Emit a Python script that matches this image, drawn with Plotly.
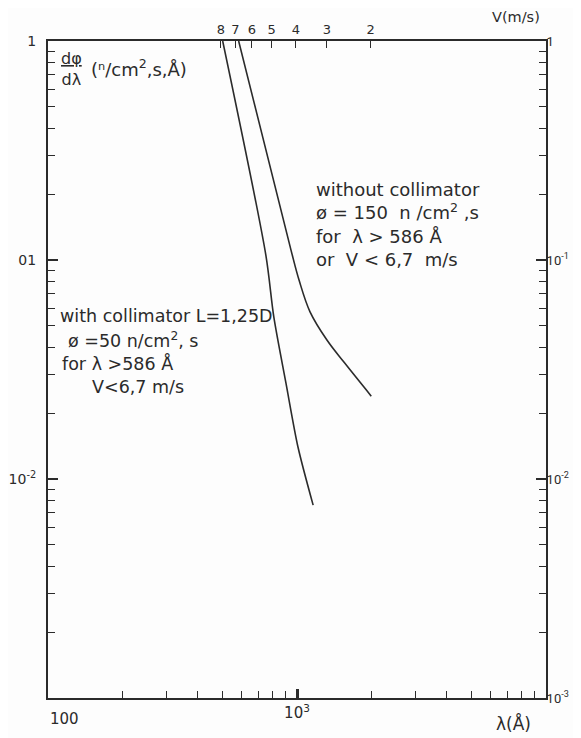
import numpy as np
import plotly.graph_objects as go

# ---- data ----
lam_coll = [503, 750, 807, 903, 1009, 1161]            # wavelength (Å), with collimator
flux_coll = [1.0, 0.105, 0.055, 0.0274, 0.014, 0.0076]

lam_free = [583, 946, 1019, 1128, 1321, 1549, 1987]    # wavelength (Å), without collimator
flux_free = [1.0, 0.111, 0.081, 0.058, 0.043, 0.034, 0.0239]

velocities = [8, 7, 6, 5, 4, 3, 2]                      # top axis V (m/s)
H_OVER_M = 3956.0                                       # λ(Å) = 3956 / v(m/s)

y_left_vals = [1, 0.1, 0.01, 0.001]
y_left_text = ["1", "01", "10<sup>-2</sup>", ""]
y_right_text = ["1", "10<sup>-1</sup>", "10<sup>-2</sup>", "10<sup>-3</sup>"]

x_major_vals = [1000]
x_major_text = ["10<sup>3</sup>"]

FONT = "DejaVu Sans, sans-serif"
INK = "#2b2b2b"

lam_of_v = [H_OVER_M / v for v in velocities]
x_minor = [m * 10 ** d for d in (2, 3) for m in range(2, 10)]
y_minor = [m * 10.0 ** d for d in (-3, -2, -1) for m in range(2, 10)]

fig = go.Figure()
fig.add_trace(go.Scatter(x=lam_coll, y=flux_coll, mode="lines",
                         line=dict(color=INK, width=1.6, shape="spline", smoothing=0.8),
                         showlegend=False, hoverinfo="skip"))
fig.add_trace(go.Scatter(x=lam_free, y=flux_free, mode="lines",
                         line=dict(color=INK, width=1.6, shape="spline", smoothing=1.0),
                         showlegend=False, hoverinfo="skip"))
# invisible trace to anchor the secondary (top/right) axes
fig.add_trace(go.Scatter(x=[1000], y=[0.1], xaxis="x2", yaxis="y2", mode="markers",
                         marker=dict(opacity=0), showlegend=False, hoverinfo="skip"))

# the page body adds an 8 px offset, so the figure is sized to fit the window after it
fig.update_layout(
    width=573, height=730,
    margin=dict(l=40, r=35, t=33, b=40),
    paper_bgcolor="#fdfdfd", plot_bgcolor="#fdfdfd",
    font=dict(family=FONT, color=INK, size=16),
    xaxis=dict(type="log", range=[2, 4], showgrid=False, zeroline=False, automargin=False,
               showline=True, linecolor=INK, linewidth=2,
               tickvals=x_major_vals, ticktext=x_major_text,
               ticks="inside", ticklen=9, tickwidth=2.5, tickcolor=INK,
               tickfont=dict(size=15),
               minor=dict(tickvals=x_minor, ticks="inside", ticklen=7,
                          tickwidth=1.2, tickcolor=INK, showgrid=False)),
    xaxis2=dict(type="log", range=[2, 4], overlaying="x", side="top", automargin=False,
                showgrid=False, zeroline=False, showline=True, linecolor=INK, linewidth=2,
                tickvals=lam_of_v, ticktext=[str(v) for v in velocities],
                ticks="inside", ticklen=7, tickwidth=1.2, tickcolor=INK,
                tickfont=dict(size=13)),
    yaxis=dict(type="log", range=[-3, 0], showgrid=False, zeroline=False, automargin=False,
               showline=True, linecolor=INK, linewidth=2,
               tickvals=y_left_vals, ticktext=y_left_text,
               ticks="inside", ticklen=10, tickwidth=2, tickcolor=INK,
               tickfont=dict(size=14), ticklabelstandoff=7,
               minor=dict(tickvals=y_minor, ticks="inside", ticklen=7,
                          tickwidth=1.2, tickcolor=INK, showgrid=False)),
    yaxis2=dict(type="log", range=[-3, 0], overlaying="y", side="right", automargin=False,
                showgrid=False, zeroline=False, showline=True, linecolor=INK, linewidth=2,
                tickvals=y_left_vals, ticktext=y_right_text,
                ticks="inside", ticklen=10, tickwidth=2, tickcolor=INK,
                tickfont=dict(size=13, family="Roboto, DejaVu Sans, sans-serif"),
                ticklabelstandoff=-4,
                minor=dict(tickvals=y_minor, ticks="inside", ticklen=7,
                           tickwidth=1.2, tickcolor=INK, showgrid=False)),
)

def px_x(px):
    return (px - 48) / 498.0

def px_y(py):
    return (698 - py) / 657.0

ann = []
# x-axis extra labels
ann.append(dict(x=px_x(48), y=px_y(719), text="100", xanchor="left", yanchor="middle",
                font=dict(size=15)))
ann.append(dict(x=px_x(494), y=px_y(723), text="λ(Å)", xanchor="left", yanchor="middle",
                font=dict(size=17)))
ann.append(dict(x=px_x(490), y=px_y(17), text="V(m/s)", xanchor="left", yanchor="middle",
                font=dict(size=14.5)))
# y-axis label (fraction)
ann.append(dict(x=px_x(59), y=px_y(69), text="<u>dφ</u><br>dλ", xanchor="left",
                yanchor="middle", align="center", font=dict(size=16)))
ann.append(dict(x=px_x(89), y=px_y(68), text="(ⁿ/cm<sup>2</sup>,s,Å)", xanchor="left",
                yanchor="middle", font=dict(size=18)))
# right text block
ann.append(dict(x=px_x(314), y=px_y(224), xanchor="left", yanchor="middle", align="left",
                text="without collimator<br>ø = 150  n /cm<sup>2</sup> ,s<br>"
                     "for  λ > 586 Å<br>or  V < 6,7  m/s",
                font=dict(size=18)))
# left text block
left_lines = [("with collimator L=1,25D", 58, 316),
              ("ø =50 n/cm<sup>2</sup>, s", 66, 340),
              ("for λ >586 Å", 60, 363),
              ("V<6,7 m/s", 90, 387)]
for t, x0, y0 in left_lines:
    ann.append(dict(x=px_x(x0), y=px_y(y0), text=t, xanchor="left", yanchor="middle",
                    font=dict(size=17.5)))

for a in ann:
    a.update(xref="paper", yref="paper", showarrow=False)
fig.update_layout(annotations=ann)

fig.write_html("out.html")
